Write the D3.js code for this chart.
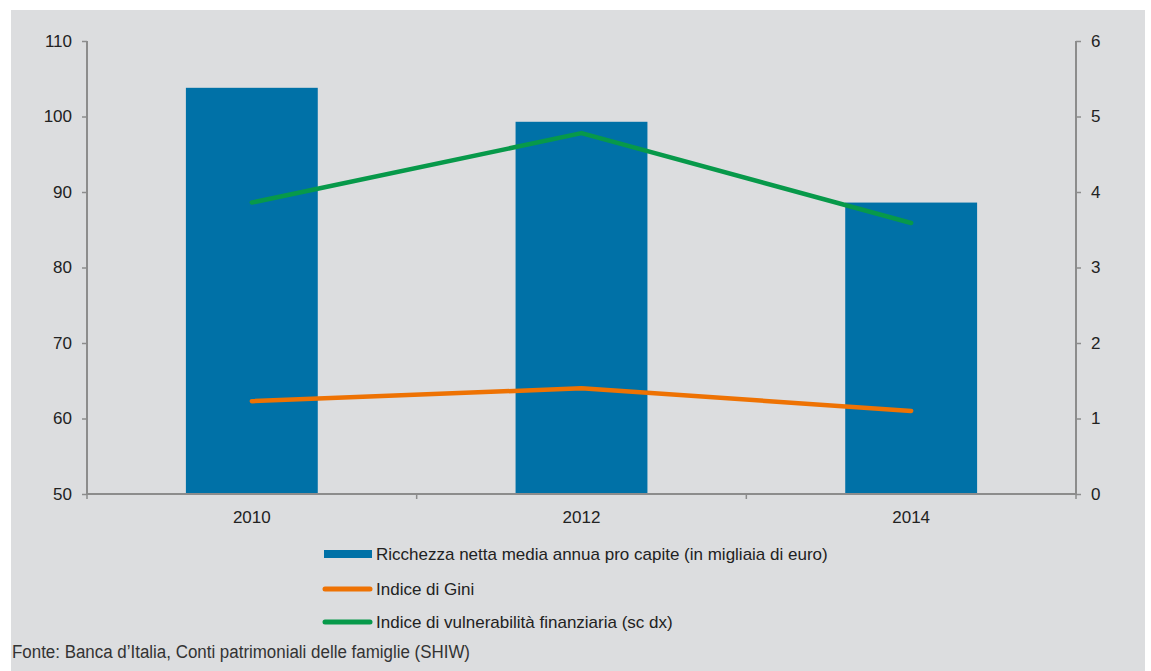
<!DOCTYPE html>
<html><head><meta charset="utf-8">
<script src="https://cdn.jsdelivr.net/npm/d3@7"></script>
<style>
html,body{margin:0;padding:0;background:#fff;}
svg{display:block;}
text{font-family:"Liberation Sans",Arial,sans-serif;}
</style></head>
<body>
<svg id="c" width="1151" height="671"></svg>
<script>
const years = ["2010", "2012", "2014"];
const ricchezza = [103.8, 99.3, 88.6];
const gini = [62.3, 64.0, 61.0];
const vulnerabilita = [3.86, 4.78, 3.59];
const leftTicks = [50, 60, 70, 80, 90, 100, 110];
const rightTicks = [0, 1, 2, 3, 4, 5, 6];
const legendLabels = [
  "Ricchezza netta media annua pro capite (in migliaia di euro)",
  "Indice di Gini",
  "Indice di vulnerabilità finanziaria (sc dx)"
];
const sourceText = "Fonte: Banca d’Italia, Conti patrimoniali delle famiglie (SHIW)";

const colBar = "#0071a7", colGini = "#ee7203", colVul = "#07994a", axisCol = "#8c8c8c";
const fs = "17px";

const svg = d3.select("#c");
svg.append("rect").attr("x", 11).attr("y", 10).attr("width", 1134).attr("height", 661).attr("fill", "#dcdddf");

const L = 87, R = 1076, T = 41, B = 494;
const x = d3.scaleBand().domain(years).range([L, R]).paddingInner(0).paddingOuter(0);
const yL = d3.scaleLinear().domain([50, 110]).range([B, T]);
const yR = d3.scaleLinear().domain([0, 6]).range([B, T]);

// bars
const bw = x.bandwidth() * 0.4;
svg.append("g").selectAll("rect").data(years).join("rect")
  .attr("x", d => x(d) + x.bandwidth() / 2 - bw / 2)
  .attr("y", (d, i) => yL(ricchezza[i]))
  .attr("width", bw)
  .attr("height", (d, i) => B - yL(ricchezza[i]))
  .attr("fill", colBar);

// axes
const axL = svg.append("g").attr("transform", `translate(${L},0)`)
  .call(d3.axisLeft(yL).tickValues(leftTicks).tickFormat(d3.format("d")).tickSize(5).tickPadding(10));
const axR = svg.append("g").attr("transform", `translate(${R},0)`)
  .call(d3.axisRight(yR).tickValues(rightTicks).tickFormat(d3.format("d")).tickSize(5).tickPadding(10));
[axL, axR].forEach(a => {
  a.select(".domain").attr("stroke", axisCol).attr("stroke-width", 2).attr("d", `M0,${T}V${B}`);
  a.selectAll(".tick line").attr("stroke", axisCol).attr("stroke-width", 1.5);
  a.selectAll(".tick text").attr("fill", "#222").style("font-size", fs)
    .style("font-family", "'Liberation Sans',Arial,sans-serif");
});

// x axis
const axB = svg.append("g").attr("transform", `translate(0,${B})`);
axB.append("line").attr("x1", L).attr("x2", R).attr("stroke", axisCol).attr("stroke-width", 2);
const bounds = [L].concat(years.map(d => x(d) + x.bandwidth()));
axB.selectAll("line.tk").data(bounds).join("line").attr("class", "tk")
  .attr("x1", d => d).attr("x2", d => d).attr("y1", 0).attr("y2", 5)
  .attr("stroke", axisCol).attr("stroke-width", 1.5);
axB.selectAll("text").data(years).join("text")
  .attr("x", d => x(d) + x.bandwidth() / 2).attr("y", 29)
  .attr("text-anchor", "middle").attr("fill", "#222").style("font-size", fs).text(d => d);

// lines
const cx = d => x(d) + x.bandwidth() / 2;
svg.append("path").datum(gini)
  .attr("d", d3.line().x((d, i) => cx(years[i])).y(d => yL(d)))
  .attr("fill", "none").attr("stroke", colGini).attr("stroke-width", 4.5).attr("stroke-linecap", "round").attr("stroke-linejoin", "round");
svg.append("path").datum(vulnerabilita)
  .attr("d", d3.line().x((d, i) => cx(years[i])).y(d => yR(d)))
  .attr("fill", "none").attr("stroke", colVul).attr("stroke-width", 4.5).attr("stroke-linecap", "round").attr("stroke-linejoin", "round");

// legend
const lg = svg.append("g");
const rowsY = [554, 589, 622];
lg.append("rect").attr("x", 324).attr("y", rowsY[0] - 4).attr("width", 48).attr("height", 8).attr("fill", colBar);
[colGini, colVul].forEach((c, i) => {
  lg.append("line").attr("x1", 325).attr("x2", 370).attr("y1", rowsY[i + 1]).attr("y2", rowsY[i + 1])
    .attr("stroke", c).attr("stroke-width", 5).attr("stroke-linecap", "round");
});
legendLabels.forEach((t, i) => {
  lg.append("text").attr("x", 376).attr("y", rowsY[i] + 6).attr("fill", "#222")
    .style("font-size", fs).text(t);
});

// source
svg.append("text").attr("x", 12).attr("y", 658).attr("fill", "#333")
  .style("font-family", "'Liberation Sans Narrow','Arial Narrow','Liberation Sans',sans-serif")
  .style("font-size", "18px")
  .attr("textLength", 458).attr("lengthAdjust", "spacingAndGlyphs")
  .text(sourceText);
</script>
</body></html>
